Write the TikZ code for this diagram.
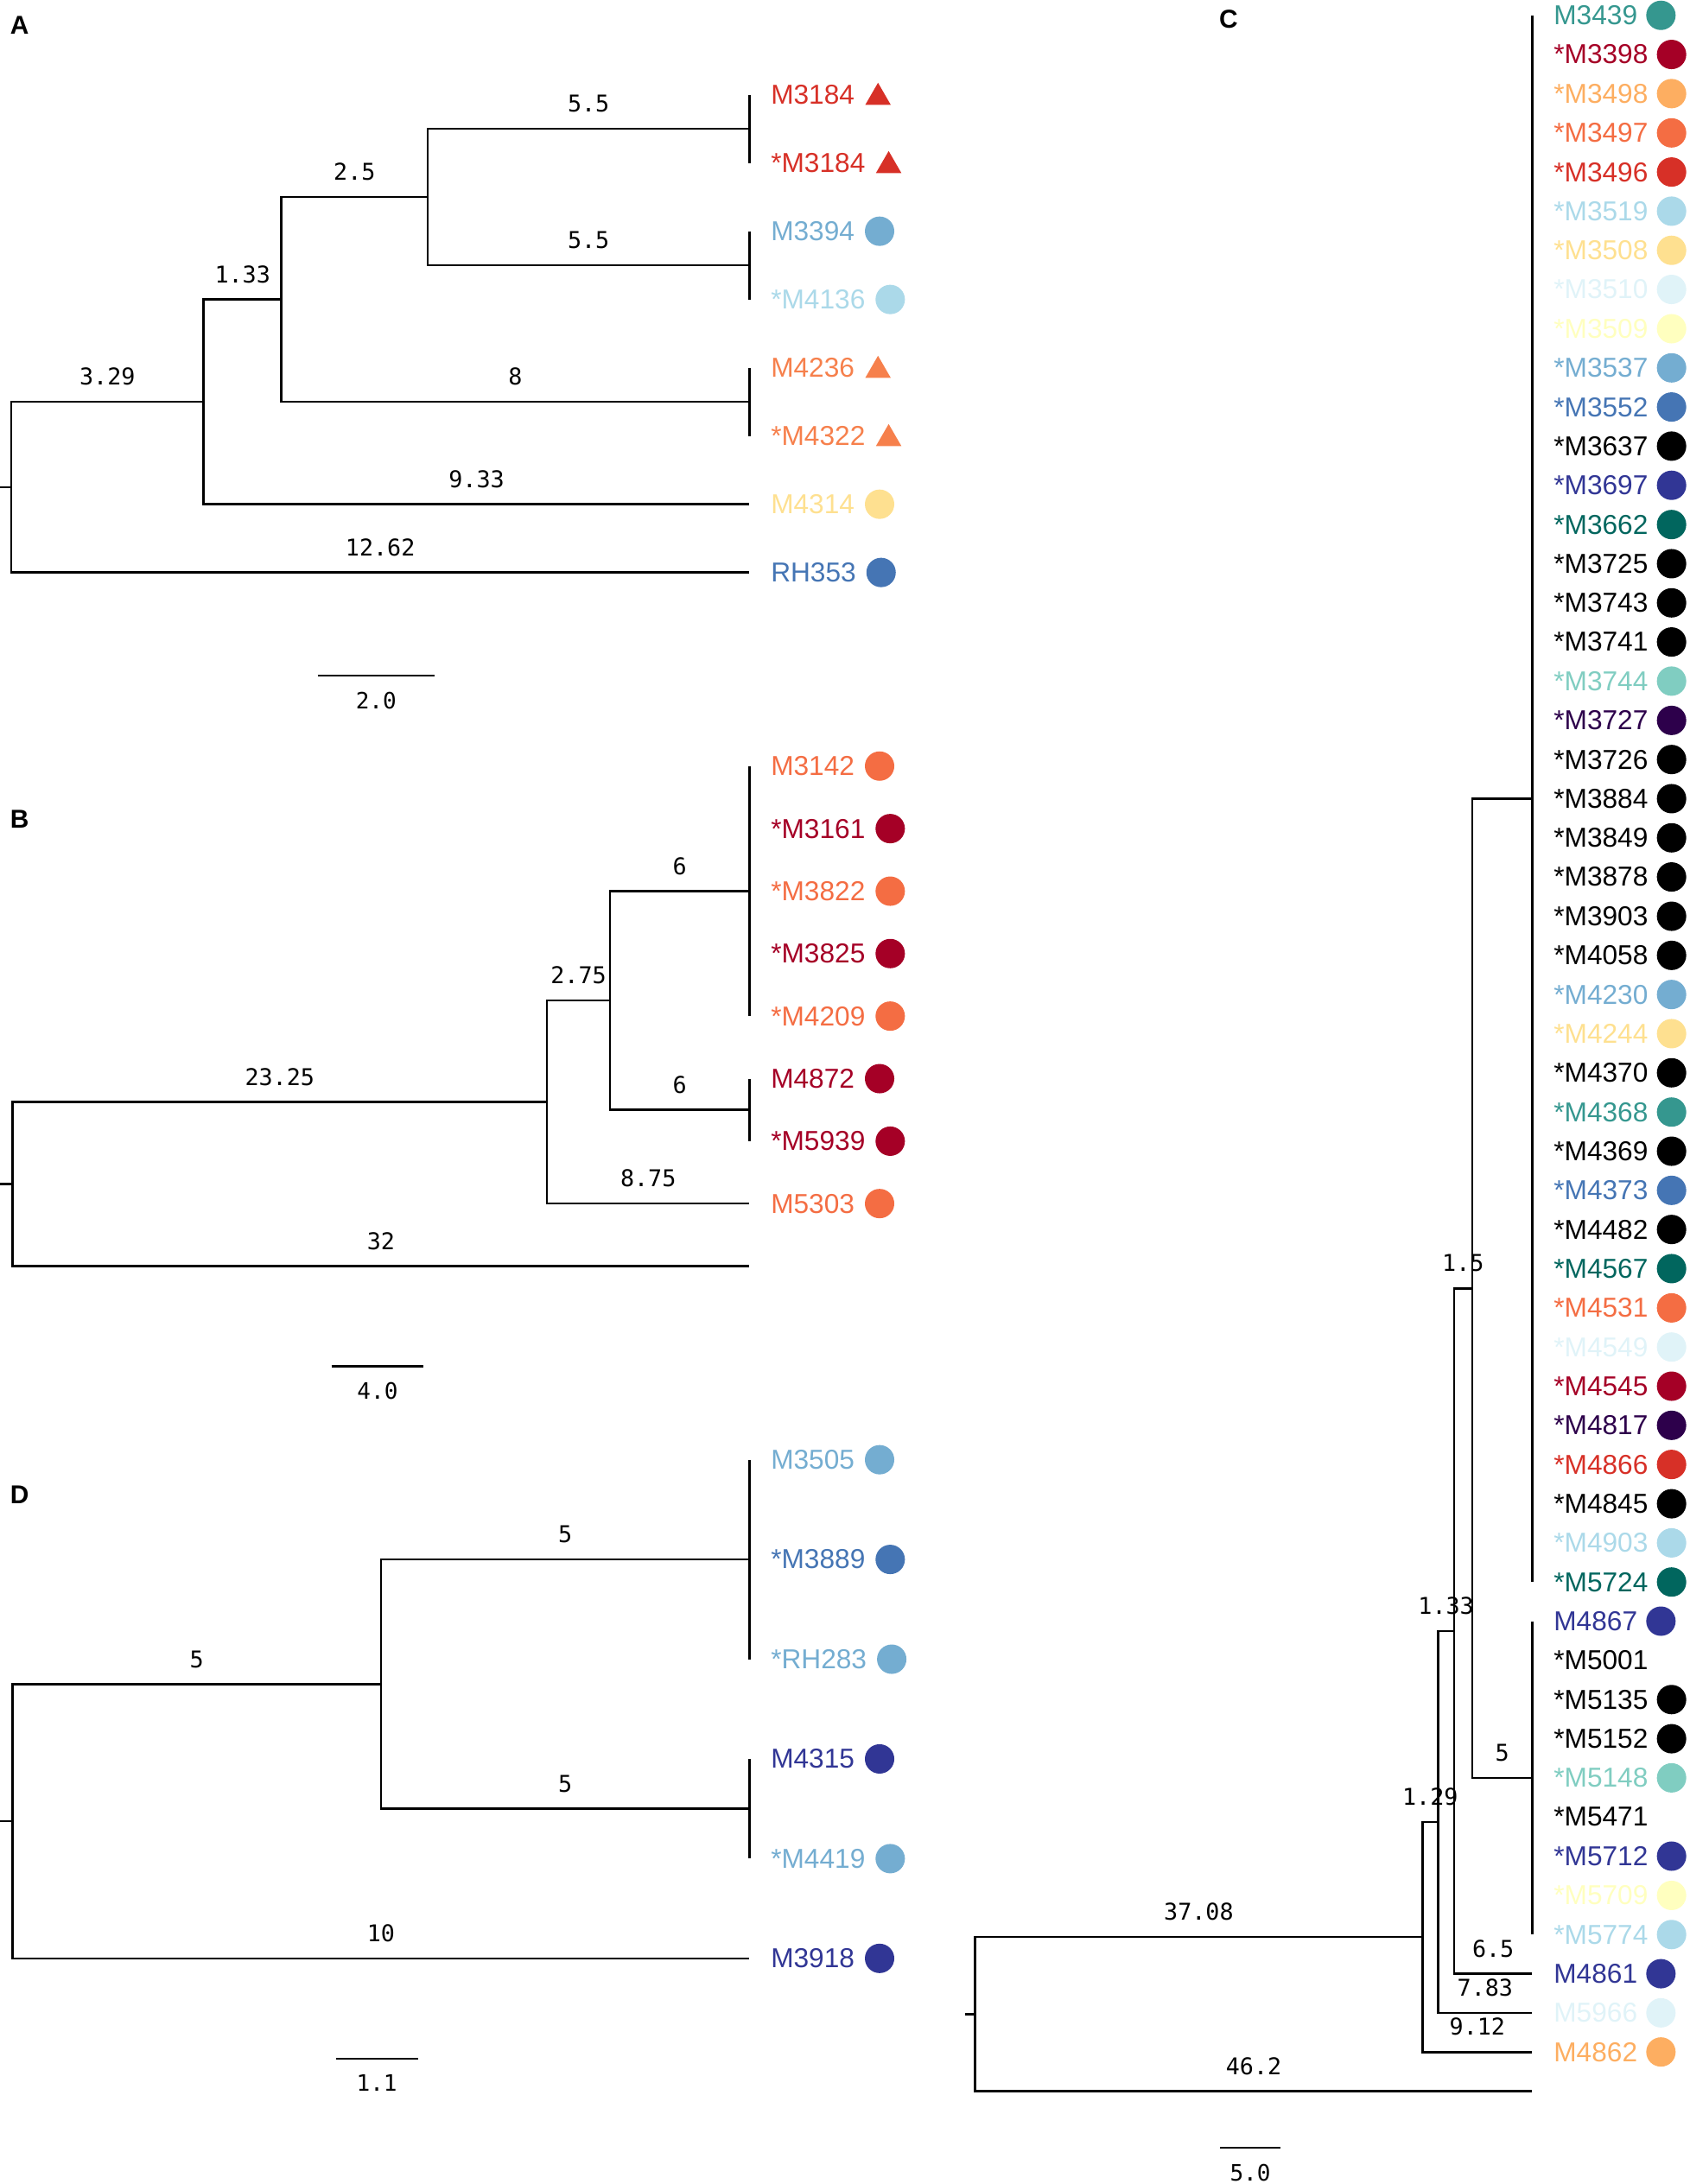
\documentclass[tikz,border=0pt]{standalone}
\usepackage{fontspec}
\setmainfont{Liberation Sans}
\newfontfamily\numfont{DejaVu Sans Mono}
\usepackage{tikz}
\usetikzlibrary{positioning}
\usetikzlibrary{shapes.geometric}

\definecolor{cRed}{HTML}{D73027}
\definecolor{cDkRed}{HTML}{A50026}
\definecolor{cOrg}{HTML}{F46D43}
\definecolor{cTriOrg}{HTML}{F6804C}
\definecolor{cLtOrg}{HTML}{FDAE61}
\definecolor{cYel}{HTML}{FEE090}
\definecolor{cPaleYel}{HTML}{FFFFBF}
\definecolor{cPaleBlue}{HTML}{E0F3F8}
\definecolor{cLtBlue}{HTML}{ABD9E9}
\definecolor{cMidBlue}{HTML}{74ADD1}
\definecolor{cBlue}{HTML}{4575B4}
\definecolor{cNavy}{HTML}{313695}
\definecolor{cTeal}{HTML}{35978F}
\definecolor{cDkTeal}{HTML}{01665E}
\definecolor{cLtTeal}{HTML}{80CDC1}
\definecolor{cPurp}{HTML}{2D004B}

\tikzset{
  branch/.style={line width=0.75pt},
  blen/.style={font=\numfont\fontsize{7.6}{9}\selectfont, inner sep=0pt, above=5pt},
  sbar/.style={font=\numfont\fontsize{7.4}{9}\selectfont, inner sep=0pt, below=5pt},
  tiplab/.style={font=\fontsize{9}{11}\selectfont, anchor=west, inner sep=0pt},
  dot/.style={circle, inner sep=0pt, minimum size=0.34cm},
  tri/.style={regular polygon, regular polygon sides=3, inner sep=0pt, minimum size=0.34cm, yshift=-0.9pt},
  panel/.style={font=\bfseries\fontsize{8.5}{10}\selectfont, inner sep=0pt},
}

\begin{document}
\begin{tikzpicture}[x=0.01611cm, y=-0.01611cm]
  \useasboundingbox (0,0) rectangle (1213,1568);

  % ---------------- Panel A ----------------
  \node[panel] (pA) at (14,18) {A};
  \coordinate (aT) at (0,349.75);
  \coordinate (aR) at (8,349.75);
  \coordinate (a1) at (146.2,288.5);
  \coordinate (a2) at (202,215);
  \coordinate (a3) at (307,141.5);
  \coordinate (aP1) at (538,92.5);
  \coordinate (aP2) at (538,190.5);
  \coordinate (aP3) at (538,288.5);
  \coordinate (tA1) at (538,68);
  \coordinate (tA2) at (538,117);
  \coordinate (tA3) at (538,166);
  \coordinate (tA4) at (538,215);
  \coordinate (tA5) at (538,264);
  \coordinate (tA6) at (538,313);
  \coordinate (tA7) at (538,362);
  \coordinate (tA8) at (538,411);

  \draw[branch] (aT) -- (aR);
  \draw[branch] (aR) |- node[blen, pos=0.75] {3.29} (a1);
  \draw[branch] (aR) |- node[blen, pos=0.75] {12.62} (tA8);
  \draw[branch] (a1) |- node[blen, pos=0.75] {1.33} (a2);
  \draw[branch] (a1) |- node[blen, pos=0.75] {9.33} (tA7);
  \draw[branch] (a2) |- node[blen, pos=0.75] {2.5} (a3);
  \draw[branch] (a2) |- node[blen, pos=0.75] {8} (aP3);
  \draw[branch] (a3) |- node[blen, pos=0.75] {5.5} (aP1);
  \draw[branch] (a3) |- node[blen, pos=0.75] {5.5} (aP2);
  \draw[branch] (tA1) -- (tA2);
  \draw[branch] (tA3) -- (tA4);
  \draw[branch] (tA5) -- (tA6);

  \node[tiplab, text=cRed] (lA1) at (553,68) {M3184};
  \node[tri, fill=cRed, right=4.5pt of lA1] (mA1) {};
  \node[tiplab, text=cRed] (lA2) at (553,117) {*M3184};
  \node[tri, fill=cRed, right=4.5pt of lA2] (mA2) {};
  \node[tiplab, text=cMidBlue] (lA3) at (553,166) {M3394};
  \node[dot, fill=cMidBlue, right=3pt of lA3] (mA3) {};
  \node[tiplab, text=cLtBlue] (lA4) at (553,215) {*M4136};
  \node[dot, fill=cLtBlue, right=3pt of lA4] (mA4) {};
  \node[tiplab, text=cTriOrg] (lA5) at (553,264) {M4236};
  \node[tri, fill=cTriOrg, right=4.5pt of lA5] (mA5) {};
  \node[tiplab, text=cTriOrg] (lA6) at (553,313) {*M4322};
  \node[tri, fill=cTriOrg, right=4.5pt of lA6] (mA6) {};
  \node[tiplab, text=cYel] (lA7) at (553,362) {M4314};
  \node[dot, fill=cYel, right=3pt of lA7] (mA7) {};
  \node[tiplab, text=cBlue] (lA8) at (553,411) {RH353};
  \node[dot, fill=cBlue, right=3pt of lA8] (mA8) {};

  % scale bar
  \coordinate (sA1) at (228,485);
  \coordinate (sA2) at (312,485);
  \draw[branch] (sA1) -- node[sbar] {2.0} (sA2);

  % ---------------- Panel B ----------------
  \node[panel] (pB) at (14,588) {B};
  \coordinate (bT) at (0,850.1);
  \coordinate (bR) at (9,850.1);
  \coordinate (b1) at (392.6,791.2);
  \coordinate (b2) at (438,718.3);
  \coordinate (bP1) at (538,639.75);
  \coordinate (bP2) at (538,796.85);
  \coordinate (tB1) at (538,550);
  \coordinate (tB5) at (538,729.5);
  \coordinate (tB6) at (538,774.4);
  \coordinate (tB7) at (538,819.3);
  \coordinate (tB8) at (538,864.1);
  \coordinate (tB9) at (538,909);

  \draw[branch] (bT) -- (bR);
  \draw[branch] (bR) |- node[blen, pos=0.75] {23.25} (b1);
  \draw[branch] (bR) |- node[blen, pos=0.75] {32} (tB9);
  \draw[branch] (b1) |- node[blen, pos=0.75] {2.75} (b2);
  \draw[branch] (b1) |- node[blen, pos=0.75] {8.75} (tB8);
  \draw[branch] (b2) |- node[blen, pos=0.75] {6} (bP1);
  \draw[branch] (b2) |- node[blen, pos=0.75] {6} (bP2);
  \draw[branch] (tB1) -- (tB5);
  \draw[branch] (tB6) -- (tB7);

  \node[tiplab, text=cOrg] (lB1) at (553,550) {M3142};
  \node[dot, fill=cOrg, right=3pt of lB1] (mB1) {};
  \node[tiplab, text=cDkRed] (lB2) at (553,594.9) {*M3161};
  \node[dot, fill=cDkRed, right=3pt of lB2] (mB2) {};
  \node[tiplab, text=cOrg] (lB3) at (553,639.8) {*M3822};
  \node[dot, fill=cOrg, right=3pt of lB3] (mB3) {};
  \node[tiplab, text=cDkRed] (lB4) at (553,684.6) {*M3825};
  \node[dot, fill=cDkRed, right=3pt of lB4] (mB4) {};
  \node[tiplab, text=cOrg] (lB5) at (553,729.5) {*M4209};
  \node[dot, fill=cOrg, right=3pt of lB5] (mB5) {};
  \node[tiplab, text=cDkRed] (lB6) at (553,774.4) {M4872};
  \node[dot, fill=cDkRed, right=3pt of lB6] (mB6) {};
  \node[tiplab, text=cDkRed] (lB7) at (553,819.3) {*M5939};
  \node[dot, fill=cDkRed, right=3pt of lB7] (mB7) {};
  \node[tiplab, text=cOrg] (lB8) at (553,864.1) {M5303};
  \node[dot, fill=cOrg, right=3pt of lB8] (mB8) {};

  % scale bar
  \coordinate (sB1) at (238,981);
  \coordinate (sB2) at (304,981);
  \draw[branch] (sB1) -- node[sbar] {4.0} (sB2);

  % ---------------- Panel D ----------------
  \node[panel] (pD) at (14,1073) {D};
  \coordinate (dT) at (0,1307.55);
  \coordinate (dR) at (9,1307.55);
  \coordinate (d1) at (273.5,1209.1);
  \coordinate (dP1) at (538,1119.6);
  \coordinate (dP2) at (538,1298.6);
  \coordinate (tD1) at (538,1048);
  \coordinate (tD3) at (538,1191.2);
  \coordinate (tD4) at (538,1262.8);
  \coordinate (tD5) at (538,1334.4);
  \coordinate (tD6) at (538,1406);

  \draw[branch] (dT) -- (dR);
  \draw[branch] (dR) |- node[blen, pos=0.75] {5} (d1);
  \draw[branch] (dR) |- node[blen, pos=0.75] {10} (tD6);
  \draw[branch] (d1) |- node[blen, pos=0.75] {5} (dP1);
  \draw[branch] (d1) |- node[blen, pos=0.75] {5} (dP2);
  \draw[branch] (tD1) -- (tD3);
  \draw[branch] (tD4) -- (tD5);

  \node[tiplab, text=cMidBlue] (lD1) at (553,1048) {M3505};
  \node[dot, fill=cMidBlue, right=3pt of lD1] (mD1) {};
  \node[tiplab, text=cBlue] (lD2) at (553,1119.6) {*M3889};
  \node[dot, fill=cBlue, right=3pt of lD2] (mD2) {};
  \node[tiplab, text=cMidBlue] (lD3) at (553,1191.2) {*RH283};
  \node[dot, fill=cMidBlue, right=3pt of lD3] (mD3) {};
  \node[tiplab, text=cNavy] (lD4) at (553,1262.8) {M4315};
  \node[dot, fill=cNavy, right=3pt of lD4] (mD4) {};
  \node[tiplab, text=cMidBlue] (lD5) at (553,1334.4) {*M4419};
  \node[dot, fill=cMidBlue, right=3pt of lD5] (mD5) {};
  \node[tiplab, text=cNavy] (lD6) at (553,1406) {M3918};
  \node[dot, fill=cNavy, right=3pt of lD6] (mD6) {};

  % scale bar
  \coordinate (sD1) at (241,1478);
  \coordinate (sD2) at (300,1478);
  \draw[branch] (sD1) -- node[sbar] {1.1} (sD2);

  % ---------------- Panel C ----------------
  \node[panel] (pC) at (882,14) {C};
  \coordinate (cT) at (693,1446);
  \coordinate (cR) at (700,1446);
  \coordinate (c1) at (1021.1,1390.6);
  \coordinate (c2) at (1032.3,1308.0);
  \coordinate (c3) at (1043.8,1171.0);
  \coordinate (c4) at (1056.8,924.9);
  \coordinate (cP1) at (1100,573.4);
  \coordinate (cP2) at (1100,1276.4);
  \coordinate (tC00) at (1100,11.0);
  \coordinate (tC40) at (1100,1135.8);
  \coordinate (tC41) at (1100,1163.9);
  \coordinate (tC49) at (1100,1388.9);
  \coordinate (tC50) at (1100,1417.0);
  \coordinate (tC51) at (1100,1445.1);
  \coordinate (tC52) at (1100,1473.2);
  \coordinate (tC53) at (1100,1501.4);

  \draw[branch] (cT) -- (cR);
  \draw[branch] (cR) |- node[blen, pos=0.75] {37.08} (c1);
  \draw[branch] (cR) |- node[blen, pos=0.75] {46.2} (tC53);
  \draw[branch] (c1) |- node[blen, pos=0.75] {1.29} (c2);
  \draw[branch] (c1) |- node[blen, pos=0.75] {9.12} (tC52);
  \draw[branch] (c2) |- node[blen, pos=0.75] {1.33} (c3);
  \draw[branch] (c2) |- node[blen, pos=0.75] {7.83} (tC51);
  \draw[branch] (c3) |- node[blen, pos=0.75] {1.5} (c4);
  \draw[branch] (c3) |- node[blen, pos=0.75] {6.5} (tC50);
  \draw[branch] (c4) |- (cP1);
  \draw[branch] (c4) |- node[blen, pos=0.75] {5} (cP2);
  \draw[branch] (tC00) -- (tC40);
  \draw[branch] (tC41) -- (tC49);

  \node[tiplab, text=cTeal] (lC00) at (1115,11.0) {M3439};
  \node[dot, fill=cTeal, right=2.5pt of lC00] (mC00) {};
  \node[tiplab, text=cDkRed] (lC01) at (1115,39.1) {*M3398};
  \node[dot, fill=cDkRed, right=2.5pt of lC01] (mC01) {};
  \node[tiplab, text=cLtOrg] (lC02) at (1115,67.2) {*M3498};
  \node[dot, fill=cLtOrg, right=2.5pt of lC02] (mC02) {};
  \node[tiplab, text=cOrg] (lC03) at (1115,95.4) {*M3497};
  \node[dot, fill=cOrg, right=2.5pt of lC03] (mC03) {};
  \node[tiplab, text=cRed] (lC04) at (1115,123.5) {*M3496};
  \node[dot, fill=cRed, right=2.5pt of lC04] (mC04) {};
  \node[tiplab, text=cLtBlue] (lC05) at (1115,151.6) {*M3519};
  \node[dot, fill=cLtBlue, right=2.5pt of lC05] (mC05) {};
  \node[tiplab, text=cYel] (lC06) at (1115,179.7) {*M3508};
  \node[dot, fill=cYel, right=2.5pt of lC06] (mC06) {};
  \node[tiplab, text=cPaleBlue] (lC07) at (1115,207.8) {*M3510};
  \node[dot, fill=cPaleBlue, right=2.5pt of lC07] (mC07) {};
  \node[tiplab, text=cPaleYel] (lC08) at (1115,236.0) {*M3509};
  \node[dot, fill=cPaleYel, right=2.5pt of lC08] (mC08) {};
  \node[tiplab, text=cMidBlue] (lC09) at (1115,264.1) {*M3537};
  \node[dot, fill=cMidBlue, right=2.5pt of lC09] (mC09) {};
  \node[tiplab, text=cBlue] (lC10) at (1115,292.2) {*M3552};
  \node[dot, fill=cBlue, right=2.5pt of lC10] (mC10) {};
  \node[tiplab, text=black] (lC11) at (1115,320.3) {*M3637};
  \node[dot, fill=black, right=2.5pt of lC11] (mC11) {};
  \node[tiplab, text=cNavy] (lC12) at (1115,348.4) {*M3697};
  \node[dot, fill=cNavy, right=2.5pt of lC12] (mC12) {};
  \node[tiplab, text=cDkTeal] (lC13) at (1115,376.6) {*M3662};
  \node[dot, fill=cDkTeal, right=2.5pt of lC13] (mC13) {};
  \node[tiplab, text=black] (lC14) at (1115,404.7) {*M3725};
  \node[dot, fill=black, right=2.5pt of lC14] (mC14) {};
  \node[tiplab, text=black] (lC15) at (1115,432.8) {*M3743};
  \node[dot, fill=black, right=2.5pt of lC15] (mC15) {};
  \node[tiplab, text=black] (lC16) at (1115,460.9) {*M3741};
  \node[dot, fill=black, right=2.5pt of lC16] (mC16) {};
  \node[tiplab, text=cLtTeal] (lC17) at (1115,489.0) {*M3744};
  \node[dot, fill=cLtTeal, right=2.5pt of lC17] (mC17) {};
  \node[tiplab, text=cPurp] (lC18) at (1115,517.2) {*M3727};
  \node[dot, fill=cPurp, right=2.5pt of lC18] (mC18) {};
  \node[tiplab, text=black] (lC19) at (1115,545.3) {*M3726};
  \node[dot, fill=black, right=2.5pt of lC19] (mC19) {};
  \node[tiplab, text=black] (lC20) at (1115,573.4) {*M3884};
  \node[dot, fill=black, right=2.5pt of lC20] (mC20) {};
  \node[tiplab, text=black] (lC21) at (1115,601.5) {*M3849};
  \node[dot, fill=black, right=2.5pt of lC21] (mC21) {};
  \node[tiplab, text=black] (lC22) at (1115,629.6) {*M3878};
  \node[dot, fill=black, right=2.5pt of lC22] (mC22) {};
  \node[tiplab, text=black] (lC23) at (1115,657.8) {*M3903};
  \node[dot, fill=black, right=2.5pt of lC23] (mC23) {};
  \node[tiplab, text=black] (lC24) at (1115,685.9) {*M4058};
  \node[dot, fill=black, right=2.5pt of lC24] (mC24) {};
  \node[tiplab, text=cMidBlue] (lC25) at (1115,714.0) {*M4230};
  \node[dot, fill=cMidBlue, right=2.5pt of lC25] (mC25) {};
  \node[tiplab, text=cYel] (lC26) at (1115,742.1) {*M4244};
  \node[dot, fill=cYel, right=2.5pt of lC26] (mC26) {};
  \node[tiplab, text=black] (lC27) at (1115,770.2) {*M4370};
  \node[dot, fill=black, right=2.5pt of lC27] (mC27) {};
  \node[tiplab, text=cTeal] (lC28) at (1115,798.4) {*M4368};
  \node[dot, fill=cTeal, right=2.5pt of lC28] (mC28) {};
  \node[tiplab, text=black] (lC29) at (1115,826.5) {*M4369};
  \node[dot, fill=black, right=2.5pt of lC29] (mC29) {};
  \node[tiplab, text=cBlue] (lC30) at (1115,854.6) {*M4373};
  \node[dot, fill=cBlue, right=2.5pt of lC30] (mC30) {};
  \node[tiplab, text=black] (lC31) at (1115,882.7) {*M4482};
  \node[dot, fill=black, right=2.5pt of lC31] (mC31) {};
  \node[tiplab, text=cDkTeal] (lC32) at (1115,910.8) {*M4567};
  \node[dot, fill=cDkTeal, right=2.5pt of lC32] (mC32) {};
  \node[tiplab, text=cOrg] (lC33) at (1115,939.0) {*M4531};
  \node[dot, fill=cOrg, right=2.5pt of lC33] (mC33) {};
  \node[tiplab, text=cPaleBlue] (lC34) at (1115,967.1) {*M4549};
  \node[dot, fill=cPaleBlue, right=2.5pt of lC34] (mC34) {};
  \node[tiplab, text=cDkRed] (lC35) at (1115,995.2) {*M4545};
  \node[dot, fill=cDkRed, right=2.5pt of lC35] (mC35) {};
  \node[tiplab, text=cPurp] (lC36) at (1115,1023.3) {*M4817};
  \node[dot, fill=cPurp, right=2.5pt of lC36] (mC36) {};
  \node[tiplab, text=cRed] (lC37) at (1115,1051.4) {*M4866};
  \node[dot, fill=cRed, right=2.5pt of lC37] (mC37) {};
  \node[tiplab, text=black] (lC38) at (1115,1079.6) {*M4845};
  \node[dot, fill=black, right=2.5pt of lC38] (mC38) {};
  \node[tiplab, text=cLtBlue] (lC39) at (1115,1107.7) {*M4903};
  \node[dot, fill=cLtBlue, right=2.5pt of lC39] (mC39) {};
  \node[tiplab, text=cDkTeal] (lC40) at (1115,1135.8) {*M5724};
  \node[dot, fill=cDkTeal, right=2.5pt of lC40] (mC40) {};
  \node[tiplab, text=cNavy] (lC41) at (1115,1163.9) {M4867};
  \node[dot, fill=cNavy, right=2.5pt of lC41] (mC41) {};
  \node[tiplab, text=black] (lC42) at (1115,1192.0) {*M5001};
  \node[tiplab, text=black] (lC43) at (1115,1220.2) {*M5135};
  \node[dot, fill=black, right=2.5pt of lC43] (mC43) {};
  \node[tiplab, text=black] (lC44) at (1115,1248.3) {*M5152};
  \node[dot, fill=black, right=2.5pt of lC44] (mC44) {};
  \node[tiplab, text=cLtTeal] (lC45) at (1115,1276.4) {*M5148};
  \node[dot, fill=cLtTeal, right=2.5pt of lC45] (mC45) {};
  \node[tiplab, text=black] (lC46) at (1115,1304.5) {*M5471};
  \node[tiplab, text=cNavy] (lC47) at (1115,1332.6) {*M5712};
  \node[dot, fill=cNavy, right=2.5pt of lC47] (mC47) {};
  \node[tiplab, text=cPaleYel] (lC48) at (1115,1360.8) {*M5709};
  \node[dot, fill=cPaleYel, right=2.5pt of lC48] (mC48) {};
  \node[tiplab, text=cLtBlue] (lC49) at (1115,1388.9) {*M5774};
  \node[dot, fill=cLtBlue, right=2.5pt of lC49] (mC49) {};
  \node[tiplab, text=cNavy] (lC50) at (1115,1417.0) {M4861};
  \node[dot, fill=cNavy, right=2.5pt of lC50] (mC50) {};
  \node[tiplab, text=cPaleBlue] (lC51) at (1115,1445.1) {M5966};
  \node[dot, fill=cPaleBlue, right=2.5pt of lC51] (mC51) {};
  \node[tiplab, text=cLtOrg] (lC52) at (1115,1473.2) {M4862};
  \node[dot, fill=cLtOrg, right=2.5pt of lC52] (mC52) {};

  % scale bar
  \coordinate (sC1) at (876,1542);
  \coordinate (sC2) at (919,1542);
  \draw[branch] (sC1) -- node[sbar] {5.0} (sC2);
\end{tikzpicture}
\end{document}
